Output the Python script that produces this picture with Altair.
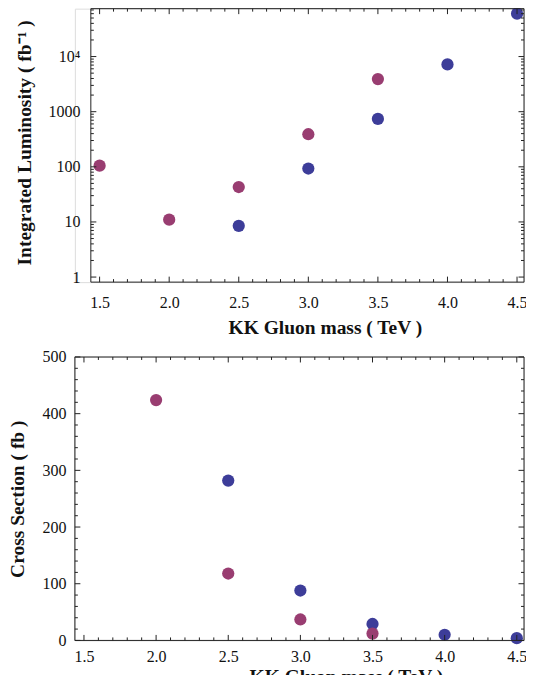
import json
import altair as alt
import pandas as pd

# ---------------- data ----------------
top_blue_mass = [2.5, 3.0, 3.5, 4.0, 4.5]
top_blue_lumi = [8.5, 93, 740, 7200, 60000]
top_magenta_mass = [1.5, 2.0, 2.5, 3.0, 3.5]
top_magenta_lumi = [105, 11, 43, 390, 3900]

bot_blue_mass = [2.5, 3.0, 3.5, 4.0, 4.5]
bot_blue_xsec = [282, 88, 29, 10, 4]
bot_magenta_mass = [2.0, 2.5, 3.0, 3.5]
bot_magenta_xsec = [424, 118, 37, 12]

x_major = [1.5, 2.0, 2.5, 3.0, 3.5, 4.0, 4.5]
x_minor = [1.6, 1.7, 1.8, 1.9, 2.1, 2.2, 2.3, 2.4, 2.6, 2.7, 2.8, 2.9,
           3.1, 3.2, 3.3, 3.4, 3.6, 3.7, 3.8, 3.9, 4.1, 4.2, 4.3, 4.4]
top_y_major = [1, 10, 100, 1000, 10000]
top_y_labels = ["1", "10", "100", "1000", "10\u2074"]
top_y_minor = [2, 3, 4, 5, 6, 7, 8, 9,
               20, 30, 40, 50, 60, 70, 80, 90,
               200, 300, 400, 500, 600, 700, 800, 900,
               2000, 3000, 4000, 5000, 6000, 7000, 8000, 9000,
               20000, 30000, 40000, 50000, 60000, 70000]
bot_y_major = [0, 100, 200, 300, 400, 500]
bot_y_minor = [20, 40, 60, 80, 120, 140, 160, 180, 220, 240, 260, 280,
               320, 340, 360, 380, 420, 440, 460, 480]

series_names = ["blue", "magenta"]
series_colors = ["#3d3d99", "#993d71"]

X_DOMAIN = [1.437, 4.55]
TOP_Y_DOMAIN = [0.81, 74000]
BOT_Y_DOMAIN = [0, 500]

FONT = "Liberation Serif"
INK = "#222"
TITLE_SIZE = 19.5
MAJ = 5.5
MIN = 3
W = 450          # common plot-group width
TOP_SHIFT = 16    # top frame starts this far right of the bottom one


def points_df(mb, vb, mm, vm):
    rows = [{"mass": m, "val": v, "series": "blue"} for m, v in zip(mb, vb)]
    rows += [{"mass": m, "val": v, "series": "magenta"} for m, v in zip(mm, vm)]
    return pd.DataFrame(rows)


def panel(df, ys, y_axis, H, shift, x_label_pad, x_title_pad, x_title_x,
          yv_major, yv_minor):
    xs = alt.Scale(domain=X_DOMAIN, range=[shift, W], nice=False, zero=False)
    x_axis = alt.Axis(values=x_major, format=".1f", ticks=False, tickSize=0,
                      domain=False, grid=False, labelFont=FONT, labelFontSize=16,
                      labelColor="#111", labelPadding=x_label_pad, labelFlush=False,
                      labelOverlap=False, title="KK Gluon mass ( TeV )",
                      titleFont=FONT, titleFontSize=TITLE_SIZE, titleFontWeight="bold",
                      titleColor="#111", titlePadding=x_title_pad, titleX=x_title_x)
    X = lambda f: alt.X(f, type="quantitative", scale=xs, axis=x_axis)
    Y = lambda f: alt.Y(f, type="quantitative", scale=ys, axis=y_axis)
    xlo = alt.XDatum(X_DOMAIN[0], type="quantitative", scale=xs, axis=x_axis)
    xhi = alt.XDatum(X_DOMAIN[1], type="quantitative", scale=xs, axis=x_axis)

    pts = alt.Chart(df).mark_circle(size=150, opacity=1).encode(
        x=X("mass"), y=Y("val"),
        color=alt.Color("series:N", scale=alt.Scale(domain=series_names,
                                                     range=series_colors),
                        legend=None),
    )
    layers = [pts]
    # frame
    fr = pd.DataFrame({"k": [0]})
    layers.append(alt.Chart(fr).mark_rule(color=INK, strokeWidth=1).encode(
        x=xlo, y=alt.value(0), y2=alt.value(H)))
    layers.append(alt.Chart(fr).mark_rule(color=INK, strokeWidth=1).encode(
        x=xhi, y=alt.value(0), y2=alt.value(H)))
    layers.append(alt.Chart(fr).mark_rule(color=INK, strokeWidth=1).encode(
        x=xlo, x2=alt.X2Datum(X_DOMAIN[1]), y=alt.value(0)))
    layers.append(alt.Chart(fr).mark_rule(color=INK, strokeWidth=1).encode(
        x=xlo, x2=alt.X2Datum(X_DOMAIN[1]), y=alt.value(H)))
    # x ticks (inward, bottom and top)
    for vals, L in ((x_major, MAJ), (x_minor, MIN)):
        d = pd.DataFrame({"mass": vals})
        base = alt.Chart(d).mark_rule(color=INK, strokeWidth=1)
        layers.append(base.encode(x=X("mass"), y=alt.value(H), y2=alt.value(H - L)))
        layers.append(base.encode(x=X("mass"), y=alt.value(0), y2=alt.value(L)))
    # y ticks (inward, left and right)
    for vals, L in ((yv_major, MAJ), (yv_minor, MIN)):
        d = pd.DataFrame({"val": vals})
        layers.append(alt.Chart(d).mark_rule(color=INK, strokeWidth=1, x2Offset=L)
                      .encode(y=Y("val"), x=xlo, x2=alt.X2Datum(X_DOMAIN[0])))
        layers.append(alt.Chart(d).mark_rule(color=INK, strokeWidth=1, x2Offset=-L)
                      .encode(y=Y("val"), x=xhi, x2=alt.X2Datum(X_DOMAIN[1])))
    return alt.layer(*layers).properties(width=W, height=H)


# ---------- top panel ----------
TH = 274
top_ys = alt.Scale(type="log", domain=TOP_Y_DOMAIN, nice=False)
label_expr = json.dumps(top_y_labels) + "[round(log(datum.value)/LN10)]"
top_y_axis = alt.Axis(values=top_y_major, labelExpr=label_expr, ticks=False,
                      tickSize=0, domain=False, grid=False, labelFont=FONT,
                      labelFontSize=16, labelColor="#111", labelPadding=11,
                      labelFlush=False, labelOverlap=False, offset=-TOP_SHIFT,
                      title="Integrated Luminosity  ( fb\u207b\u00b9 )",
                      titleFont=FONT, titleFontSize=TITLE_SIZE, titleFontWeight="bold",
                      titleColor="#111", titlePadding=13, titleY=134)
top = panel(points_df(top_blue_mass, top_blue_lumi, top_magenta_mass, top_magenta_lumi),
            top_ys, top_y_axis, TH, TOP_SHIFT, 12, 8, 250.5, top_y_major, top_y_minor)

# ---------- bottom panel ----------
BH = 284
bot_ys = alt.Scale(domain=BOT_Y_DOMAIN, nice=False, zero=False)
bot_y_axis = alt.Axis(values=bot_y_major, format="d", ticks=False, tickSize=0,
                      domain=False, grid=False, labelFont=FONT, labelFontSize=16,
                      labelColor="#111", labelPadding=9, labelFlush=False,
                      labelOverlap=False, title="Cross Section  ( fb )",
                      titleFont=FONT, titleFontSize=TITLE_SIZE, titleFontWeight="bold",
                      titleColor="#111", titlePadding=14)
bottom = panel(points_df(bot_blue_mass, bot_blue_xsec, bot_magenta_mass, bot_magenta_xsec),
               bot_ys, bot_y_axis, BH, 0, 8, 3, 271.5, bot_y_major, bot_y_minor)

chart = alt.vconcat(top, bottom, spacing=11).properties(
    padding={"left": -1, "top": -2, "right": -2, "bottom": -12}
).configure_view(stroke=None).configure(background="white")

chart.save("out.html", embed_options={"renderer": "svg", "actions": False})
